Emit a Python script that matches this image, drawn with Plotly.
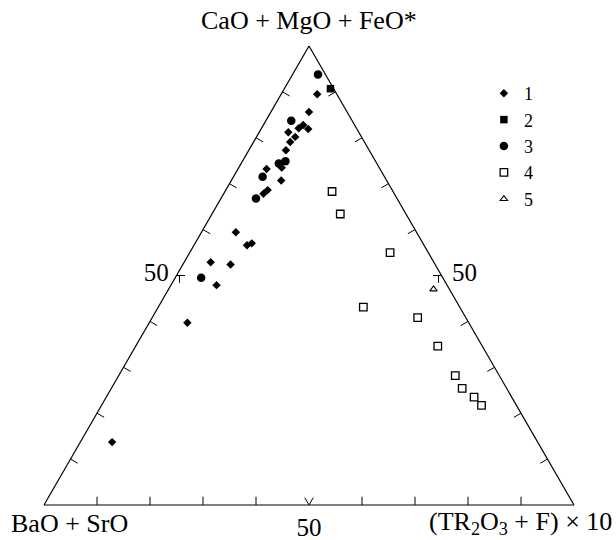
import plotly.graph_objects as go

# Ternary compositions (percent): a = CaO+MgO+FeO*, b = BaO+SrO, c = (TR2O3+F)x10
s1_a = [89.5, 85.6, 82.8, 81.9, 82.1, 81.2, 80.2, 79.1, 77.3, 73.5, 73.2, 70.7, 68.6, 67.8, 59.4, 56.6, 57.0, 52.9, 52.4, 47.9, 39.7, 13.7]
s1_b = [3.7, 7.2, 9.7, 9.2, 10.9, 13.3, 12.5, 14.0, 15.7, 18.4, 21.4, 19.9, 23.5, 24.7, 34.1, 33.4, 32.3, 42.1, 38.6, 43.5, 53.1, 80.3]
s1_c = [6.8, 7.2, 7.5, 8.9, 7.0, 5.5, 7.3, 6.9, 7.0, 8.1, 5.4, 9.4, 7.9, 7.5, 6.5, 10.0, 10.7, 5.0, 9.0, 8.6, 7.2, 6.0]

s2_a = [90.7]
s2_b = [0.6]
s2_c = [8.7]

s3_a = [93.8, 83.7, 74.9, 74.4, 71.5, 66.8, 49.5]
s3_b = [1.4, 11.5, 17.0, 18.5, 23.0, 26.6, 45.6]
s3_c = [4.8, 4.8, 8.1, 7.1, 5.5, 6.6, 4.9]

s4_a = [68.3, 63.4, 55.0, 43.1, 40.8, 34.6, 28.2, 25.4, 23.5, 21.7]
s4_b = [11.5, 12.4, 7.2, 18.2, 9.1, 8.4, 8.3, 8.4, 7.1, 6.6]
s4_c = [20.2, 24.2, 37.8, 38.7, 50.1, 57.0, 63.5, 66.2, 69.4, 71.7]

s5_a = [47.0]
s5_b = [3.0]
s5_c = [50.0]

series_names = ["1", "2", "3", "4", "5"]
minor_ticks = [10, 20, 30, 40, 60, 70, 80, 90]   # small perpendicular ticks
label_ticks = [50]
label_text = ["50"]

title_a = "CaO + MgO + FeO*"
title_b = "BaO + SrO"
title_c = "(TR<sub>2</sub>O<sub>3</sub> + F) × 10"

FONT = "Liberation Serif"
TL = 1.8    # tick length in ternary percent units (perpendicular)
AL = 1.6    # arm length for the 50 marks

# ---- tick marks built in ternary coordinates ----
ta, tb, tc = [], [], []
def seg(p, q):
    ta.extend([p[0], q[0], None]); tb.extend([p[1], q[1], None]); tc.extend([p[2], q[2], None])

for t in minor_ticks:
    # bottom edge (a = 0), perpendicular upward
    seg((0, t, 100 - t), (TL, t - TL / 2, 100 - t - TL / 2))
    # left edge (c = 0), perpendicular inward
    seg((t, 100 - t, 0), (t - TL / 2, 100 - t - TL / 2, TL))
    # right edge (b = 0), perpendicular inward
    seg((100 - t, 0, t), (100 - t - TL / 2, TL, t - TL / 2))

for t in label_ticks:
    # bottom: V made of the two grid directions
    seg((0, t, 100 - t), (AL, t - AL, 100 - t))
    seg((0, t, 100 - t), (AL, t, 100 - t - AL))
    # left: horizontal arm + short vertical arm
    seg((t, 100 - t, 0), (t, 100 - t - AL, AL))
    seg((t, 100 - t - AL * 0.35, AL * 0.35), (t - AL, 100 - t - AL * 0.35 + AL / 2, AL * 0.35 + AL / 2))
    # right: horizontal arm + short vertical arm
    seg((t, 0, 100 - t), (t, AL, 100 - t - AL))
    seg((t, AL * 0.35, 100 - t - AL * 0.35), (t - AL, AL * 0.35 + AL / 2, 100 - t - AL * 0.35 + AL / 2))

fig = go.Figure()
fig.add_trace(go.Scatterternary(a=ta, b=tb, c=tc, mode="lines", showlegend=False,
                                hoverinfo="skip", line=dict(color="black", width=1)))

styles = [
    dict(symbol="diamond", size=6.5, color="black"),
    dict(symbol="square", size=7.5, color="black"),
    dict(symbol="circle", size=8.5, color="black"),
    dict(symbol="square-open", size=7.5, color="black", line=dict(width=1.3, color="black")),
    dict(symbol="triangle-up-open", size=6.5, color="black", line=dict(width=1.1, color="black")),
]
data = [(s1_a, s1_b, s1_c), (s2_a, s2_b, s2_c), (s3_a, s3_b, s3_c), (s4_a, s4_b, s4_c), (s5_a, s5_b, s5_c)]
for name, (a, b, c), st in zip(series_names, data, styles):
    fig.add_trace(go.Scatterternary(a=a, b=b, c=c, mode="markers", name=name,
                                    marker=st, cliponaxis=False))

def axis(ticks, ticklen, show=True):
    return dict(
        title=dict(text=""),
        tickmode="array", tickvals=label_ticks, ticktext=label_text,
        ticks=ticks, ticklen=ticklen, tickwidth=1, tickcolor="rgba(0,0,0,0)",
        showticklabels=show,
        showgrid=False, showline=True, linecolor="black", linewidth=1.2,
        tickfont=dict(family=FONT, size=25, color="black"), min=0,
    )

fig.update_layout(
    width=616, height=540,
    margin=dict(l=44, r=42, t=46, b=35),
    paper_bgcolor="white",
    font=dict(family=FONT, color="black"),
    ternary=dict(
        sum=100,
        bgcolor="white",
        aaxis=axis("outside", 4),
        baxis=axis("", 0),
        caxis=axis("", 0, show=False),
        domain=dict(x=[0, 1], y=[0, 1]),
    ),
    legend=dict(x=0.83, y=0.9368, xanchor="left", yanchor="top",
                font=dict(family=FONT, size=18, color="black"),
                bgcolor="rgba(0,0,0,0)", borderwidth=0),
    annotations=[
        dict(text=title_a, x=0.5, y=1.0566, xref="paper", yref="paper", showarrow=False,
             xanchor="center", yanchor="middle", font=dict(family=FONT, size=26, color="black")),
        dict(text=title_b, x=-0.066, y=-0.04, xref="paper", yref="paper", showarrow=False,
             xanchor="left", yanchor="middle", font=dict(family=FONT, size=26, color="black")),
        dict(text=title_c, x=1.0755, y=-0.04, xref="paper", yref="paper", showarrow=False,
             xanchor="right", yanchor="middle", font=dict(family=FONT, size=26, color="black")),
        dict(text=label_text[0], x=0.794, y=0.5076, xref="paper", yref="paper", showarrow=False,
             xanchor="center", yanchor="middle", font=dict(family=FONT, size=25, color="black")),
    ],
)

fig.write_html("out.html")
